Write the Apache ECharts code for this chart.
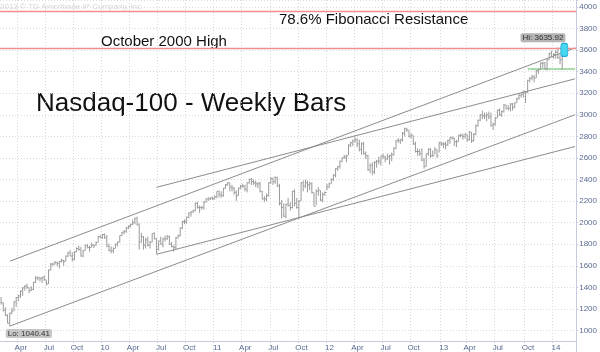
<!DOCTYPE html>
<html>
<head>
<meta charset="utf-8">
<script src="https://cdn.jsdelivr.net/npm/echarts@6/dist/echarts.min.js"></script>
<style>
  html, body { margin: 0; background: #fff; }
  #chart { width: 600px; height: 352px; }
</style>
</head>
<body>
<div id="chart"></div>
<script>
// weekly bars, one entry per week starting Monday 2009-02-09
const firstWeek = "2009-02-09";
const weekCount = 267; // axis runs a few empty weeks past the last bar

const highs = [
  1310, 1262, 1215, 1150, 1165, 1210, 1275, 1310, 1330, 1370, 1400, 1420, 1435, 1400, 1410, 1450,
  1505, 1500, 1495, 1500, 1510, 1470, 1565, 1625, 1630, 1645, 1640, 1645, 1665, 1655, 1695, 1730,
  1745, 1725, 1735, 1770, 1785, 1775, 1745, 1795, 1800, 1785, 1815, 1800, 1825, 1875, 1885,
  // 2010
  1895, 1900, 1885, 1805, 1780, 1770, 1805, 1825, 1880, 1915, 1930, 1960, 1975, 1990, 2030, 2045,
  2055, 1995, 1905, 1875, 1860, 1870, 1830, 1900, 1910, 1855, 1830, 1870, 1860, 1880, 1885, 1880,
  1820, 1790, 1865, 1890, 1955, 2015, 2030, 2055, 2095, 2105, 2120, 2185, 2195, 2160, 2155, 2200,
  2225, 2235, 2235, 2240,
  // 2011
  2250, 2290, 2300, 2290, 2320, 2360, 2375, 2370, 2350, 2330, 2300, 2325, 2350, 2360, 2350, 2375,
  2410, 2415, 2400, 2390, 2375, 2380, 2295, 2245, 2270, 2375, 2420, 2420, 2430, 2425, 2360, 2210,
  2180, 2175, 2230, 2190, 2295, 2310, 2230, 2210, 2375, 2390, 2400, 2390, 2380, 2375, 2280, 2310,
  2330, 2300, 2280, 2290,
  // 2012
  2360, 2370, 2410, 2450, 2505, 2525, 2575, 2605, 2630, 2630, 2725, 2750, 2770, 2795, 2780, 2770,
  2745, 2750, 2660, 2630, 2550, 2560, 2570, 2580, 2610, 2620, 2640, 2620, 2640, 2630, 2650, 2700,
  2765, 2785, 2775, 2840, 2880, 2880, 2860, 2830, 2810, 2750, 2690, 2680, 2690, 2600, 2640, 2690,
  2690, 2670, 2700, 2680,
  // 2013
  2750, 2750, 2745, 2750, 2770, 2790, 2800, 2790, 2770, 2815, 2825, 2825, 2830, 2820, 2850, 2840,
  2830, 2910, 2955, 3005, 3040, 3020, 3020, 3030, 3020, 2930, 2980, 3050, 3060, 3040, 3100, 3095,
  3090, 3110, 3110, 3115, 3160, 3200, 3200, 3225, 3220, 3325, 3350, 3370, 3370, 3415, 3430, 3485,
  3490, 3490, 3520, 3575, 3595,
  // 2014
  3570, 3600, 3625, 3560, 3550, 3625, 3635.92
];

const lows = [
  1240, 1175, 1135, 1065, 1040.41, 1150, 1180, 1220, 1270, 1300, 1320, 1370, 1385, 1345, 1365, 1375,
  1440, 1465, 1455, 1440, 1460, 1420, 1430, 1555, 1595, 1610, 1595, 1575, 1630, 1600, 1640, 1680,
  1690, 1640, 1650, 1725, 1740, 1685, 1680, 1740, 1760, 1730, 1770, 1765, 1785, 1815, 1855,
  // 2010
  1850, 1850, 1775, 1735, 1715, 1715, 1760, 1780, 1815, 1875, 1890, 1905, 1940, 1955, 1975, 1985,
  1975, 1750, 1815, 1750, 1760, 1780, 1760, 1815, 1845, 1710, 1740, 1795, 1770, 1825, 1840, 1795,
  1770, 1730, 1750, 1850, 1870, 1940, 1985, 1990, 2040, 2055, 2090, 2105, 2130, 2090, 2120, 2120,
  2185, 2200, 2210, 2210,
  // 2011
  2215, 2225, 2235, 2230, 2240, 2315, 2340, 2290, 2290, 2260, 2200, 2250, 2310, 2320, 2290, 2280,
  2360, 2350, 2350, 2330, 2320, 2280, 2215, 2190, 2200, 2240, 2360, 2350, 2360, 2330, 2160, 2040,
  2050, 2040, 2150, 2110, 2130, 2150, 2130, 2035, 2200, 2290, 2320, 2280, 2300, 2270, 2150, 2160,
  2250, 2200, 2190, 2250,
  // 2012
  2300, 2320, 2360, 2385, 2420, 2480, 2500, 2560, 2590, 2560, 2625, 2700, 2710, 2740, 2700, 2660,
  2630, 2630, 2590, 2480, 2460, 2440, 2450, 2510, 2540, 2530, 2590, 2560, 2580, 2540, 2570, 2620,
  2680, 2740, 2730, 2750, 2800, 2840, 2790, 2780, 2720, 2650, 2620, 2620, 2570, 2500, 2520, 2620,
  2600, 2610, 2630, 2600,
  // 2013
  2650, 2710, 2690, 2680, 2710, 2730, 2770, 2710, 2700, 2750, 2790, 2770, 2780, 2750, 2760, 2740,
  2750, 2810, 2890, 2940, 2960, 2960, 2940, 2960, 2890, 2860, 2900, 2970, 2990, 2980, 3020, 3050,
  3040, 3030, 3040, 3060, 3110, 3140, 3160, 3160, 3110, 3200, 3300, 3320, 3300, 3340, 3380, 3420,
  3430, 3420, 3410, 3510, 3530,
  // 2014
  3520, 3520, 3520, 3470, 3420, 3540, 3600
];

const closes = [
  1257, 1188, 1140, 1068, 1160, 1180, 1264, 1305, 1320, 1365, 1395, 1410, 1400, 1370, 1380, 1445,
  1485, 1490, 1480, 1490, 1470, 1430, 1560, 1615, 1615, 1630, 1620, 1640, 1650, 1640, 1690, 1720,
  1690, 1660, 1730, 1760, 1750, 1690, 1740, 1790, 1770, 1770, 1790, 1790, 1815, 1870, 1860,
  // 2010
  1890, 1860, 1780, 1740, 1740, 1760, 1800, 1820, 1880, 1910, 1920, 1950, 1965, 1985, 2000, 2040,
  1980, 1820, 1870, 1790, 1840, 1790, 1820, 1900, 1850, 1750, 1830, 1800, 1850, 1850, 1870, 1800,
  1780, 1770, 1860, 1880, 1950, 2010, 2010, 2050, 2090, 2100, 2110, 2180, 2140, 2140, 2140, 2190,
  2220, 2220, 2230, 2220,
  // 2011
  2240, 2290, 2260, 2250, 2320, 2350, 2370, 2330, 2320, 2280, 2250, 2320, 2340, 2340, 2310, 2370,
  2400, 2380, 2370, 2360, 2360, 2290, 2220, 2220, 2250, 2370, 2410, 2380, 2420, 2340, 2180, 2140,
  2060, 2170, 2160, 2140, 2290, 2180, 2140, 2200, 2370, 2340, 2370, 2350, 2360, 2280, 2150, 2290,
  2300, 2210, 2260, 2280,
  // 2012
  2330, 2360, 2400, 2440, 2500, 2520, 2570, 2600, 2610, 2620, 2720, 2740, 2760, 2770, 2730, 2680,
  2730, 2640, 2620, 2490, 2530, 2470, 2560, 2570, 2570, 2620, 2610, 2590, 2610, 2620, 2630, 2690,
  2760, 2760, 2770, 2830, 2870, 2860, 2800, 2810, 2730, 2660, 2660, 2640, 2580, 2520, 2640, 2680,
  2620, 2620, 2680, 2620,
  // 2013
  2740, 2730, 2730, 2720, 2760, 2790, 2780, 2750, 2750, 2810, 2810, 2800, 2820, 2770, 2840, 2760,
  2820, 2900, 2950, 3000, 2990, 2990, 3000, 2980, 2900, 2910, 2970, 3040, 3000, 3030, 3090, 3060,
  3060, 3100, 3070, 3110, 3150, 3180, 3190, 3210, 3210, 3320, 3340, 3350, 3340, 3410, 3420, 3480,
  3480, 3430, 3510, 3570, 3540,
  // 2014
  3560, 3580, 3530, 3510, 3550, 3620, 3620
];

// hand drawn lines, [week, value] at each end
const trendLines = [
  [["2009-03-09", 1642], ["2014-03-17", 3621]],
  [["2009-03-09", 1040], ["2014-03-17", 3001]],
  [["2010-06-28", 2327], ["2014-03-17", 3334]],
  [["2010-06-28", 1706], ["2014-03-17", 2706]]
];
const fibResistance = 3962;
const october2000High = 3620;
const supportLine = [["2013-10-14", 3425], ["2014-03-17", 3425]];
const lowPoint = ["2009-03-09", 1040.41];
const highPoint = ["2014-02-17", 3635.92];
const highlight = ["2014-02-10", 3602];

const monthNames = ["Jan", "Feb", "Mar", "Apr", "May", "Jun", "Jul", "Aug", "Sep", "Oct", "Nov", "Dec"];

const weeks = [];
const start = new Date(firstWeek + "T00:00:00Z");
for (let i = 0; i < weekCount; i++) {
  weeks.push(new Date(start.getTime() + i * 7 * 86400000).toISOString().slice(0, 10));
}
const weekIndex = (d) => weeks.indexOf(d);

function quarterStart(i) {
  const m = Number(weeks[i].slice(5, 7)) - 1;
  if (m % 3 !== 0) return false;
  if (i === 0) return false;
  return Number(weeks[i - 1].slice(5, 7)) - 1 !== m;
}

const bars = closes.map((c, i) => [i, highs[i], lows[i], c]);

const barColor = "#9a9a9a";
const lineColor = "#8c8c8c";
const axisColor = "#c4ccdb";
const labelColor = "#5a6a90";
const gridLine = { show: true, lineStyle: { color: "#d9d9d9", type: [1, 2], width: 1 } };

const chart = echarts.init(document.getElementById("chart"));

chart.setOption({
  animation: false,
  backgroundColor: "#fff",
  grid: { left: 0, right: 23, top: 0, bottom: 0 },
  xAxis: {
    type: "category",
    data: weeks,
    boundaryGap: true,
    offset: -11,
    axisLine: { lineStyle: { color: axisColor } },
    axisTick: { show: false },
    axisLabel: {
      interval: (i) => quarterStart(i),
      color: labelColor,
      fontSize: 8,
      fontFamily: "Liberation Sans",
      margin: 3,
      padding: [0, 0, 0, 5],
      formatter: (v) => {
        const m = Number(v.slice(5, 7)) - 1;
        return m === 0 ? v.slice(2, 4) : monthNames[m];
      }
    },
    splitLine: { ...gridLine, interval: (i) => quarterStart(i) }
  },
  yAxis: {
    type: "value",
    position: "right",
    min: 800,
    max: 4065,
    interval: 200,
    axisLine: { show: true, lineStyle: { color: axisColor } },
    axisTick: { show: true, length: 2, lineStyle: { color: axisColor } },
    axisLabel: {
      color: labelColor,
      fontSize: 8,
      fontFamily: "Liberation Sans",
      margin: 3,
      formatter: (v) => (v < 1000 || v > 4000 ? "" : String(v))
    },
    splitLine: gridLine
  },
  series: [
    {
      type: "custom",
      data: bars,
      encode: { x: 0, y: [1, 2, 3] },
      z: 3,
      renderItem: (params, api) => {
        const hi = api.coord([api.value(0), api.value(1)]);
        const lo = api.coord([api.value(0), api.value(2)]);
        const cl = api.coord([api.value(0), api.value(3)]);
        const style = { stroke: barColor, lineWidth: 1 };
        return {
          type: "group",
          children: [
            { type: "line", shape: { x1: hi[0], y1: hi[1], x2: lo[0], y2: lo[1] }, style },
            { type: "line", shape: { x1: cl[0], y1: cl[1], x2: cl[0] + 1.6, y2: cl[1] }, style }
          ]
        };
      },
      markLine: {
        silent: true,
        symbol: "none",
        label: { show: false },
        lineStyle: { color: "#ef8e8e", type: "solid", width: 1.3 },
        data: [{ yAxis: fibResistance }, { yAxis: october2000High }]
      },
      markPoint: {
        silent: true,
        data: [
          {
            coord: [weekIndex(lowPoint[0]), lowPoint[1]],
            symbol: "rect",
            symbolSize: 0,
            label: {
              show: true,
              formatter: "Lo: " + lowPoint[1].toFixed(2),
              position: [-4, 3],
              fontSize: 8,
              fontFamily: "Liberation Sans",
              color: "#333",
              backgroundColor: "#c6c6c6",
              borderRadius: 2,
              padding: [1, 2, 0, 2]
            }
          },
          {
            coord: [weekIndex(highPoint[0]), highPoint[1]],
            symbol: "rect",
            symbolSize: 0,
            label: {
              show: true,
              formatter: "Hi: " + highPoint[1].toFixed(2),
              position: [-46, -13],
              fontSize: 8,
              fontFamily: "Liberation Sans",
              color: "#333",
              backgroundColor: "#b5b5b5",
              borderRadius: 2,
              padding: [1, 2, 0, 2]
            }
          },
          {
            coord: [weekIndex(highlight[0]), highlight[1]],
            symbol: "roundRect",
            symbolSize: [7, 13],
            itemStyle: { color: "#47d6ee", borderColor: "#22a6d8", borderWidth: 1 },
            label: { show: false }
          }
        ]
      }
    },
    ...trendLines.map((pts) => ({
      type: "line",
      data: pts.map((p) => [weekIndex(p[0]), p[1]]),
      symbol: "none",
      silent: true,
      z: 2,
      lineStyle: { color: lineColor, width: 1 }
    })),
    {
      type: "line",
      data: supportLine.map((p) => [weekIndex(p[0]), p[1]]),
      symbol: "none",
      silent: true,
      z: 2,
      lineStyle: { color: "#8fd08f", width: 1.3 }
    }
  ],
  graphic: [
    {
      type: "text",
      x: 0,
      y: 3,
      style: { text: "2013 \u00a9 TD Ameritrade IP Company, Inc.", font: '8px "Liberation Sans"', fill: "#d6d6d6", verticalAlign: "top" }
    },
    {
      type: "text",
      x: 36,
      y: 91,
      style: { text: "Nasdaq-100 - Weekly Bars", font: '26px "Liberation Sans"', fill: "#111", verticalAlign: "top" }
    },
    {
      type: "text",
      x: 101,
      y: 34,
      style: { text: "October 2000 High", font: '15px "Liberation Sans"', fill: "#111", verticalAlign: "top" }
    },
    {
      type: "text",
      x: 279,
      y: 12.5,
      style: { text: "78.6% Fibonacci Resistance", font: '15px "Liberation Sans"', fill: "#111", verticalAlign: "top" }
    }
  ]
});
</script>
</body>
</html>
